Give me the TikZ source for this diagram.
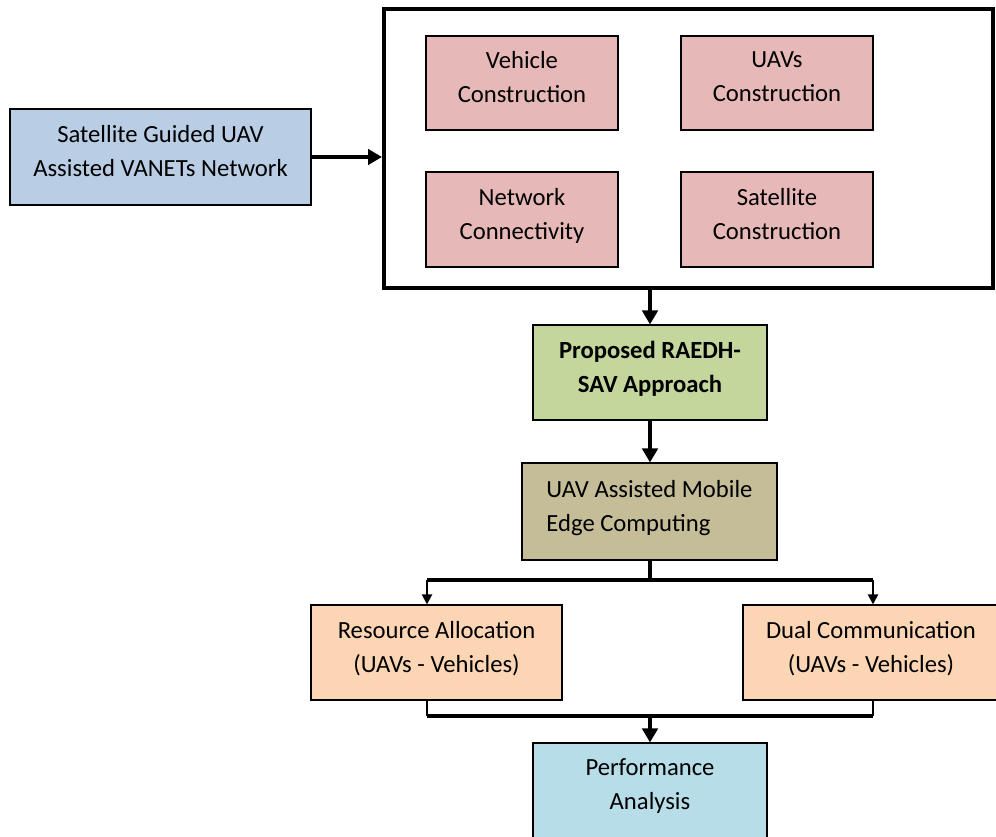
\documentclass[tikz,border=0pt]{standalone}
\usepackage{fontspec}
\setmainfont{Carlito}
\usetikzlibrary{arrows.meta}
\definecolor{satblue}{HTML}{B9CDE5}
\definecolor{pinkbox}{HTML}{E6B9B8}
\definecolor{greenbox}{HTML}{C3D69B}
\definecolor{tanbox}{HTML}{C4BD97}
\definecolor{peachbox}{HTML}{FCD5B5}
\definecolor{cyanbox}{HTML}{B7DEE8}
\begin{document}
\begin{tikzpicture}[x=0.75pt,y=-0.75pt,
  box/.style={draw,line width=0.8pt,inner sep=0pt,text depth=9pt,align=center,font=\fontsize{18.5}{25.5}\selectfont},
  flow/.style={line width=3pt,-{Triangle[length=10.5pt,width=11.5pt]}},
  branch/.style={line width=1.5pt,-{Triangle[length=7.5pt,width=7.5pt]}}]
\useasboundingbox (0,0) rectangle (996,837);
\node[box,fill=satblue,minimum width=301*0.75pt,minimum height=96*0.75pt] (sat) at (160.5,157) {Satellite Guided UAV\\Assisted VANETs Network};
\node[draw,line width=3pt,minimum width=609*0.75pt,minimum height=279*0.75pt,inner sep=0pt] (frame) at (688.5,148.5) {};
\node[box,fill=pinkbox,minimum width=192*0.75pt,minimum height=94*0.75pt] (veh) at (522,83) {Vehicle\\Construction};
\node[box,fill=pinkbox,minimum width=192*0.75pt,minimum height=94*0.75pt] (uavs) at (777,83) {UAVs\\Construction};
\node[box,fill=pinkbox,minimum width=192*0.75pt,minimum height=95*0.75pt] (net) at (522,219.5) {Network\\Connectivity};
\node[box,fill=pinkbox,minimum width=192*0.75pt,minimum height=95*0.75pt] (satc) at (777,219.5) {Satellite\\Construction};
\node[box,fill=greenbox,minimum width=234*0.75pt,minimum height=95*0.75pt,font=\fontsize{18.5}{25.5}\selectfont\bfseries] (prop) at (650,372.5) {Proposed RAEDH-\\SAV Approach};
\node[box,fill=tanbox,minimum width=255*0.75pt,minimum height=97*0.75pt,align=left] (mec) at (649.5,511.5) {UAV Assisted Mobile\\Edge Computing};
\node[box,fill=peachbox,minimum width=251*0.75pt,minimum height=95*0.75pt] (res) at (436.5,652.5) {Resource Allocation\\(UAVs - Vehicles)};
\node[box,fill=peachbox,minimum width=256*0.75pt,minimum height=95*0.75pt] (dual) at (871,652.5) {Dual Communication\\(UAVs - Vehicles)};
\node[box,fill=cyanbox,minimum width=234*0.75pt,minimum height=95*0.75pt] (perf) at (650,790.5) {Performance\\Analysis};
\coordinate (splitL) at (427,580);
\coordinate (splitR) at (873,580);
\coordinate (joinL) at (427,716);
\coordinate (joinR) at (873,716);
\draw[flow] (sat.east) -- (sat.east -| frame.west);
\draw[flow] (prop.north |- frame.south) -- (prop.north);
\draw[flow] (prop.south) -- (prop.south |- mec.north);
\draw[line width=3pt] (mec.south -| prop.south) -- (prop.south |- splitL);
\draw[line width=3pt] (splitL) -- (splitR);
\draw[branch] (splitL) -- (splitL |- res.north);
\draw[branch] (splitR) -- (splitR |- dual.north);
\draw[line width=1.5pt] (joinL |- res.south) -- (joinL);
\draw[line width=1.5pt] (joinR |- dual.south) -- (joinR);
\draw[line width=3pt] (joinL) -- (joinR);
\draw[flow] (perf.north |- joinL) -- (perf.north);
\end{tikzpicture}
\end{document}
